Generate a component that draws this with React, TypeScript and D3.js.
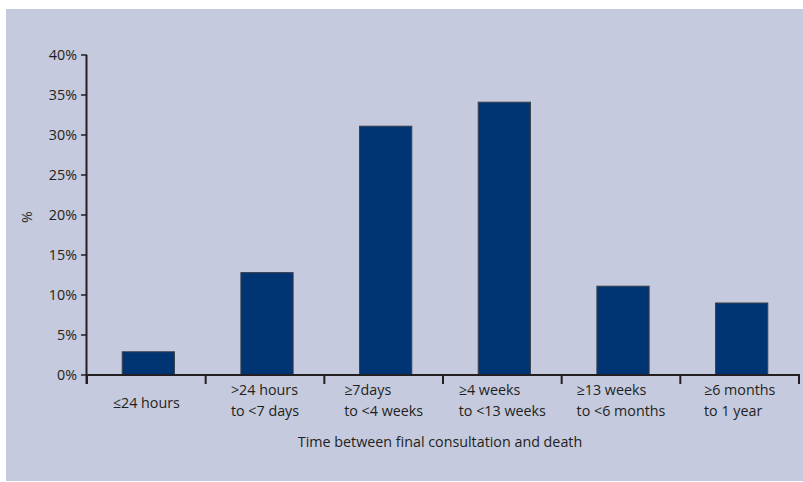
import React, { useEffect, useRef } from 'react';
import * as d3 from 'd3';

const categories = [
  ['≤24 hours'],
  ['>24 hours', 'to <7 days'],
  ['≥7days', 'to <4 weeks'],
  ['≥4 weeks', 'to <13 weeks'],
  ['≥13 weeks', 'to <6 months'],
  ['≥6 months', 'to 1 year'],
];
const values = [2.9, 12.8, 31.1, 34.1, 11.1, 9.0];
const yTicks = [0, 5, 10, 15, 20, 25, 30, 35, 40];

const W = 803;
const H = 482;
const FONT = '"Open Sans", "Noto Sans", sans-serif';
const TEXT = '#231f20';
const FS = 14.3;

export default function App() {
  const svgRef = useRef<SVGSVGElement>(null);

  useEffect(() => {
    if (!svgRef.current) return;
    const svg = d3.select(svgRef.current);
    svg.selectAll('*').remove();

    svg.append('rect')
      .attr('x', 6).attr('y', 9)
      .attr('width', W - 6).attr('height', 472)
      .attr('fill', '#c5cade');

    // category slots (ticks at slot edges)
    const slot = d3.scaleBand<number>()
      .domain(d3.range(categories.length))
      .range([87, 799]);
    const step = slot.step();
    // bars sit slightly right of slot centre in the original
    const x = d3.scaleBand<number>()
      .domain(d3.range(categories.length))
      .range([89, 801])
      .paddingInner(0.56)
      .paddingOuter(0.28);
    const y = d3.scaleLinear().domain([0, 40]).range([375, 55]);

    svg.append('g').selectAll('rect')
      .data(values)
      .join('rect')
      .attr('x', (_, i) => x(i)!)
      .attr('y', d => y(d))
      .attr('width', x.bandwidth())
      .attr('height', d => y(0) - y(d))
      .attr('fill', '#003473')
      .attr('stroke', '#3a3f4c')
      .attr('stroke-width', 1);

    // y axis
    const ya = svg.append('g');
    ya.append('line')
      .attr('x1', 86.5).attr('x2', 86.5)
      .attr('y1', y(40)).attr('y2', 384)
      .attr('stroke', TEXT).attr('stroke-width', 2);
    ya.selectAll('line.t')
      .data(yTicks)
      .join('line')
      .attr('class', 't')
      .attr('x1', 81).attr('x2', 87)
      .attr('y1', d => y(d)).attr('y2', d => y(d))
      .attr('stroke', TEXT).attr('stroke-width', 1.5);
    ya.selectAll('text')
      .data(yTicks)
      .join('text')
      .attr('x', 77)
      .attr('y', d => y(d) + 5)
      .attr('text-anchor', 'end')
      .attr('font-family', FONT)
      .attr('font-size', FS)
      .attr('fill', TEXT)
      .text(d => `${d}%`);

    // x axis
    const xa = svg.append('g');
    xa.append('line')
      .attr('x1', 86).attr('x2', 800)
      .attr('y1', y(0)).attr('y2', y(0))
      .attr('stroke', TEXT).attr('stroke-width', 2);
    xa.selectAll('line.t')
      .data(d3.range(categories.length + 1))
      .join('line')
      .attr('class', 't')
      .attr('x1', i => 87 + i * step).attr('x2', i => 87 + i * step)
      .attr('y1', y(0)).attr('y2', 384)
      .attr('stroke', TEXT).attr('stroke-width', 2);

    categories.forEach((lines, i) => {
      const cx = slot(i)! + step / 2;
      const g = xa.append('g');
      const texts = lines.map((s, j) =>
        g.append('text')
          .attr('y', lines.length === 1 ? 408 : 395 + j * 21)
          .attr('font-family', FONT)
          .attr('font-size', FS)
          .attr('fill', TEXT)
          .text(s)
      );
      const maxW = d3.max(texts, t => (t.node() as SVGTextElement).getComputedTextLength()) || 0;
      texts.forEach(t => t.attr('x', cx - maxW / 2));
    });

    svg.append('text')
      .attr('x', 440).attr('y', 447)
      .attr('text-anchor', 'middle')
      .attr('font-family', FONT)
      .attr('font-size', FS)
      .attr('fill', TEXT)
      .text('Time between final consultation and death');

    svg.append('text')
      .attr('transform', 'translate(32,217) rotate(-90)')
      .attr('text-anchor', 'middle')
      .attr('font-family', FONT)
      .attr('font-size', FS)
      .attr('fill', TEXT)
      .text('%');
  }, []);

  return (
    <svg
      ref={svgRef}
      width={W}
      height={H}
      style={{ position: 'absolute', left: 0, top: 0, background: '#fff' }}
    />
  );
}
